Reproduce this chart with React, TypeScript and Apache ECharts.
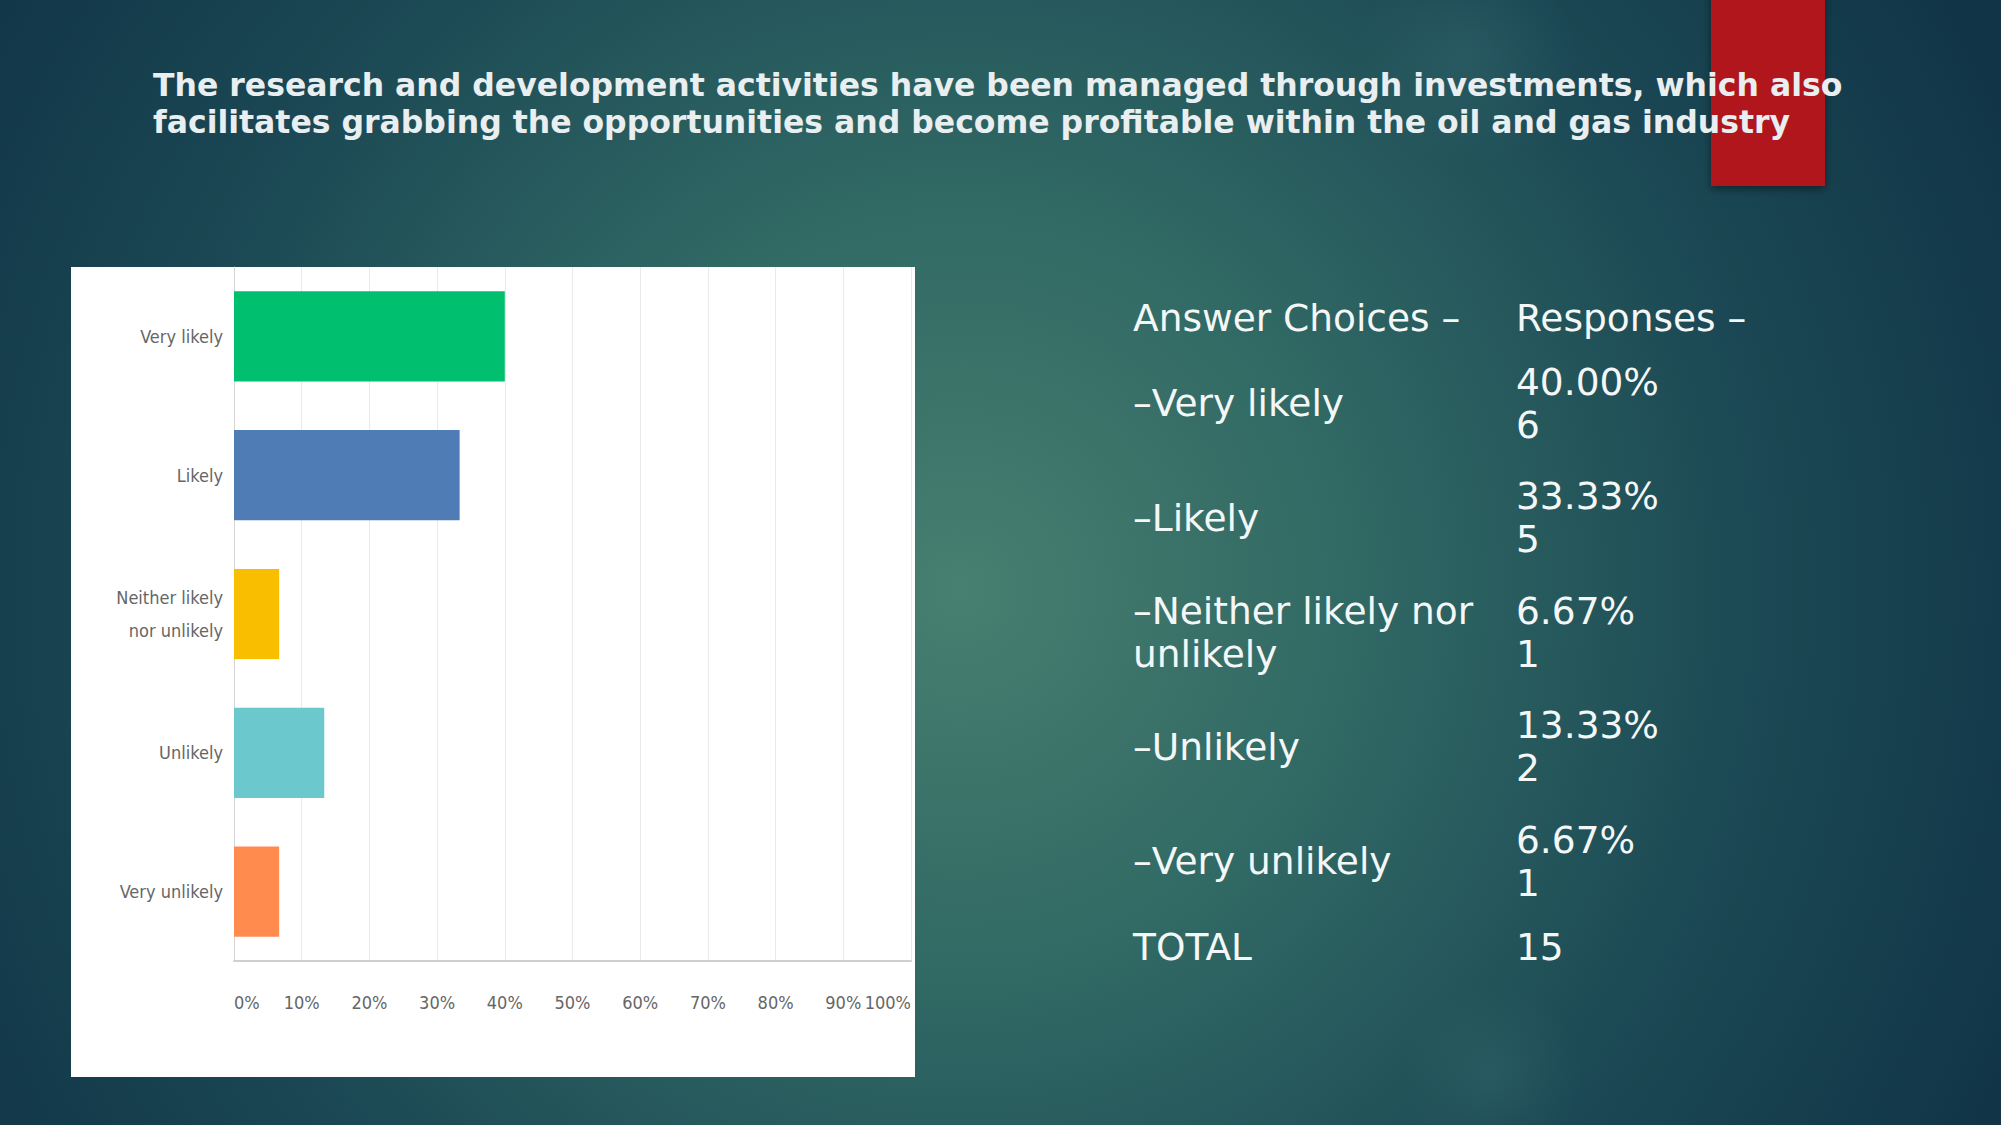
import React, { useEffect, useRef } from "react";
import * as echarts from "echarts";

const titleLines = [
  "The research and development activities have been managed through investments, which also",
  "facilitates grabbing the opportunities and become profitable within the oil and gas industry",
];
const categories = ["Very likely", "Likely", "Neither likely\nnor unlikely", "Unlikely", "Very unlikely"];
const percents = [40.0, 33.33, 6.67, 13.33, 6.67];
const counts = [6, 5, 1, 2, 1];
const barColors = ["#00BF6F", "#507CB6", "#F9BE00", "#6BC8CD", "#FF8B4F"];
const tableLabels = ["–Very likely", "–Likely", "–Neither likely nor\nunlikely", "–Unlikely", "–Very unlikely"];
const tableHeaders = ["Answer Choices –", "Responses –"];
const totalLabel = "TOTAL";
const totalCount = 15;
const xTicks = [0, 10, 20, 30, 40, 50, 60, 70, 80, 90, 100];

const W = 2001;
const H = 1125;

export default function App() {
  const ref = useRef<HTMLDivElement>(null);
  useEffect(() => {
    if (!ref.current) return;
    const chart = echarts.init(ref.current, undefined, { renderer: "svg" });
    const narrow = '"Liberation Sans Narrow", "DejaVu Sans Condensed", "Roboto Condensed", sans-serif';
    const dejavu = '"DejaVu Sans", sans-serif';
    const tableColor = "#F4F7F7";
    const tableFont = `37.5px ${dejavu}`;

    const graphics: any[] = [];
    graphics.push({
      type: "rect",
      z: -10,
      silent: true,
      shape: { x: 0, y: 0, width: W, height: H },
      style: {
        fill: new echarts.graphic.RadialGradient(960, 590, 1150, [
          { offset: 0, color: "#477F70" },
          { offset: 0.35, color: "#306864" },
          { offset: 0.7, color: "#1B4854" },
          { offset: 1, color: "#113547" },
        ], true),
      },
    });
    graphics.push({
      type: "circle",
      z: -9,
      silent: true,
      shape: { cx: 1468, cy: 55, r: 110 },
      style: {
        fill: new echarts.graphic.RadialGradient(0.5, 0.5, 0.5, [
          { offset: 0, color: "rgba(90,150,150,0.16)" },
          { offset: 1, color: "rgba(90,150,150,0)" },
        ]),
      },
    });
    graphics.push({
      type: "circle",
      z: -9,
      silent: true,
      shape: { cx: 1493, cy: 1075, r: 90 },
      style: {
        fill: new echarts.graphic.RadialGradient(0.5, 0.5, 0.5, [
          { offset: 0, color: "rgba(90,150,150,0.14)" },
          { offset: 1, color: "rgba(90,150,150,0)" },
        ]),
      },
    });
    graphics.push({
      type: "rect",
      z: -5,
      silent: true,
      shape: { x: 1711, y: -10, width: 114, height: 196 },
      style: { fill: "#B0171A", shadowBlur: 8, shadowOffsetY: 3, shadowColor: "rgba(0,0,0,0.45)" },
    });
    graphics.push({
      type: "rect",
      z: -5,
      silent: true,
      shape: { x: 71, y: 267, width: 844, height: 810 },
      style: { fill: "#FFFFFF" },
    });
    titleLines.forEach((t, i) => {
      graphics.push({
        type: "text",
        z: 10,
        x: 153,
        y: 85 + i * 37,
        style: {
          text: t,
          fill: "#E9EEF0",
          font: `bold 31.5px ${dejavu}`,
          verticalAlign: "middle",
          align: "left",
        },
      });
    });
    const col1 = 1133;
    const col2 = 1516;
    const lh = 43;
    graphics.push({
      type: "text", x: col1, y: 318,
      style: { text: tableHeaders[0], fill: tableColor, font: tableFont, verticalAlign: "middle" },
    });
    graphics.push({
      type: "text", x: col2, y: 318,
      style: { text: tableHeaders[1], fill: tableColor, font: tableFont, verticalAlign: "middle" },
    });
    tableLabels.forEach((lab, i) => {
      const cy = 403 + i * 114.6;
      graphics.push({
        type: "text", x: col1, y: cy,
        style: { text: lab, fill: tableColor, font: tableFont, lineHeight: lh, verticalAlign: "middle" },
      });
      graphics.push({
        type: "text", x: col2, y: cy,
        style: {
          text: `${percents[i].toFixed(2)}%\n${counts[i]}`,
          fill: tableColor, font: tableFont, lineHeight: lh, verticalAlign: "middle",
        },
      });
    });
    graphics.push({
      type: "text", x: col1, y: 947,
      style: { text: totalLabel, fill: tableColor, font: tableFont, verticalAlign: "middle" },
    });
    graphics.push({
      type: "text", x: col2, y: 947,
      style: { text: String(totalCount), fill: tableColor, font: tableFont, verticalAlign: "middle" },
    });

    chart.setOption({
      animation: false,
      graphic: graphics,
      grid: { left: 234, top: 267, width: 677, height: 694, containLabel: false },
      xAxis: {
        type: "value",
        min: xTicks[0],
        max: xTicks[xTicks.length - 1],
        interval: 10,
        axisLine: { show: true, lineStyle: { color: "#CFCFCF", width: 2 } },
        axisTick: { show: false },
        splitLine: { show: true, lineStyle: { color: "#EAEAEA", width: 1 } },
        axisLabel: {
          formatter: "{value}%",
          color: "#666666",
          fontFamily: narrow,
          fontSize: 18,
          margin: 32,
          showMinLabel: true,
          showMaxLabel: true,
          hideOverlap: false,
          alignMinLabel: "left",
          alignMaxLabel: "right",
        },
      },
      yAxis: {
        type: "category",
        data: categories,
        inverse: true,
        axisLine: { show: true, lineStyle: { color: "#D6D6D6", width: 1 } },
        axisTick: { show: false },
        axisLabel: {
          color: "#666666",
          fontFamily: narrow,
          fontSize: 18,
          lineHeight: 33,
          margin: 11,
          align: "right",
        },
      },
      series: [
        {
          type: "bar",
          barWidth: "65%",
          data: percents.map((v, i) => ({ value: v, itemStyle: { color: barColors[i] } })),
        },
      ],
    });
    return () => chart.dispose();
  }, []);
  return <div ref={ref} style={{ position: "absolute", left: 0, top: 0, width: W, height: H }} />;
}
